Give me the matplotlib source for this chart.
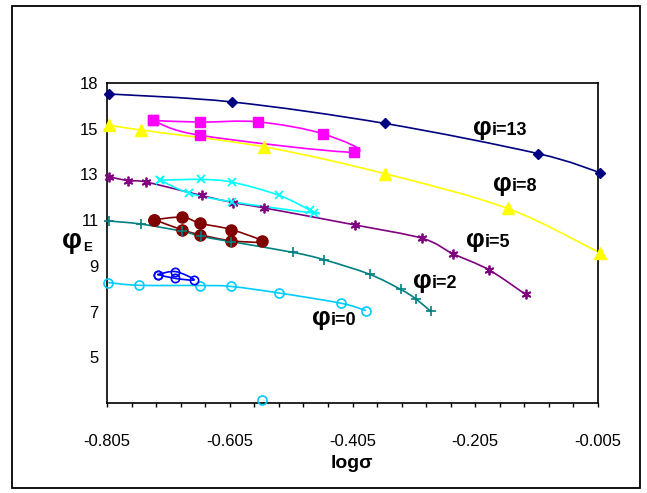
import matplotlib
matplotlib.use('Agg')
import matplotlib.pyplot as plt
from matplotlib.path import Path
from matplotlib.patches import PathPatch, Rectangle

plt.rcParams['font.family'] = ['Liberation Sans', 'DejaVu Sans']

# phi_i = 13 (navy diamonds)
x13 = [-0.802, -0.601, -0.352, -0.1025, -0.002]
y13 = [16.52, 16.17, 15.23, 13.91, 13.08]

# magenta squares (loop)
x_sq = [-0.730, -0.653, -0.559, -0.4535, -0.403, -0.653, -0.730]
y_sq = [15.36, 15.29, 15.30, 14.78, 13.97, 14.71, 15.36]

# phi_i = 8 (yellow triangles)
x8 = [-0.802, -0.750, -0.550, -0.352, -0.152, -0.002]
y8 = [15.16, 14.94, 14.21, 13.03, 11.51, 9.57]

# phi_i = 5 (purple stars)
x5 = [-0.801, -0.770, -0.742, -0.651, -0.600, -0.550, -0.401, -0.291, -0.242, -0.183, -0.123]
y5 = [12.90, 12.72, 12.67, 12.08, 11.77, 11.54, 10.79, 10.20, 9.54, 8.83, 7.75]

# cyan crosses (loop)
x_cx = [-0.7185, -0.6515, -0.601, -0.525, -0.4747, -0.4682, -0.601, -0.671, -0.7185]
y_cx = [12.75, 12.78, 12.66, 12.09, 11.44, 11.31, 11.80, 12.18, 12.75]

# dark red circles (loop)
x_rd = [-0.728, -0.682, -0.653, -0.603, -0.552, -0.603, -0.653, -0.682, -0.728]
y_rd = [11.02, 11.13, 10.86, 10.59, 10.07, 10.10, 10.36, 10.57, 11.02]

# phi_i = 2 (teal plus)
x2 = [-0.801, -0.750, -0.682, -0.6515, -0.603, -0.502, -0.4515, -0.377, -0.3266, -0.302, -0.2777]
y2 = [10.96, 10.83, 10.51, 10.29, 10.06, 9.59, 9.27, 8.63, 7.97, 7.56, 7.01]

# phi_i = 0 (light blue open circles)
x0 = [-0.803, -0.753, -0.653, -0.603, -0.524, -0.423, -0.383]
y0 = [8.27, 8.15, 8.14, 8.10, 7.81, 7.36, 7.04]
x0_extra = [-0.553]
y0_extra = [3.15]

# blue open circles (small loop)
x_bl = [-0.7227, -0.6935, -0.663, -0.6935, -0.7227]
y_bl = [8.62, 8.75, 8.39, 8.45, 8.62]

curve_labels = ['i=13', 'i=8', 'i=5', 'i=2', 'i=0']
label_x = [-0.178, -0.146, -0.1895, -0.2765, -0.440]
label_y = [14.71, 12.28, 9.81, 8.02, 6.43]

x_ticks = [-0.805, -0.605, -0.405, -0.205, -0.005]
x_ticklabels = ['-0.805', '-0.605', '-0.405', '-0.205', '-0.005']
y_ticks = [5, 7, 9, 11, 13, 15, 17]
y_ticklabels = ['5', '7', '9', '11', '13', '15', '18']


def smooth_path(xs, ys):
    # Excel-style smoothed line: cubic bezier with 1/6 tension
    pts = list(zip(xs, ys))
    n = len(pts)
    verts = [pts[0]]
    codes = [Path.MOVETO]
    for i in range(n - 1):
        p0 = pts[i - 1] if i > 0 else pts[i]
        p1 = pts[i]
        p2 = pts[i + 1]
        p3 = pts[i + 2] if i + 2 < n else pts[i + 1]
        c1 = (p1[0] + (p2[0] - p0[0]) / 6, p1[1] + (p2[1] - p0[1]) / 6)
        c2 = (p2[0] - (p3[0] - p1[0]) / 6, p2[1] - (p3[1] - p1[1]) / 6)
        verts += [c1, c2, p2]
        codes += [Path.CURVE4] * 3
    return Path(verts, codes)


def draw_series(ax, xs, ys, color, **marker_kw):
    ax.add_patch(PathPatch(smooth_path(xs, ys), fill=False, edgecolor=color, lw=1.2, zorder=2))
    ax.plot(xs, ys, linestyle='none', color=color, zorder=3, clip_on=False, **marker_kw)


fig = plt.figure(figsize=(6.47, 4.93), dpi=100)
ax = fig.add_axes([107 / 647, 1 - 403 / 493, 491 / 647, 320 / 493])

draw_series(ax, x13, y13, '#000080', marker='D', markersize=5.5)
draw_series(ax, x_sq, y_sq, '#FF00FF', marker='s', markersize=7)
draw_series(ax, x8, y8, '#FFFF00', marker='^', markersize=8)
draw_series(ax, x5, y5, '#800080', marker=(6, 2, 0), markersize=7, markeredgewidth=1.3)
draw_series(ax, x_cx, y_cx, '#00FFFF', marker='x', markersize=6, markeredgewidth=1.3)
draw_series(ax, x_rd, y_rd, '#800000', marker='o', markersize=8)
draw_series(ax, x2, y2, '#008080', marker='+', markersize=7, markeredgewidth=1.2)
draw_series(ax, x0, y0, '#00CCFF', marker='o', markersize=6.5, markerfacecolor='none', markeredgewidth=1.2)
ax.plot(x0_extra, y0_extra, linestyle='none', marker='o', markersize=6.5, color='#00CCFF',
        markerfacecolor='none', markeredgewidth=1.2, clip_on=False, zorder=3)
draw_series(ax, x_bl, y_bl, '#0000FF', marker='o', markersize=6, markerfacecolor='none', markeredgewidth=1.2)

for lab, lx, ly in zip(curve_labels, label_x, label_y):
    ax.text(lx, ly, 'φ', ha='right', va='baseline', fontsize=19, fontweight='bold')
    ax.text(lx, ly, lab, ha='left', va='baseline', fontsize=13, fontweight='bold')

ax.set_xlim(-0.805, -0.005)
ax.set_ylim(3, 17)
ax.set_xticks(x_ticks)
ax.set_xticklabels(x_ticklabels, fontsize=12)
ax.set_xticks([-0.805 + 0.04 * k for k in range(21)], minor=True)
ax.set_yticks(y_ticks)
ax.set_yticklabels(y_ticklabels, fontsize=12)
ax.tick_params(axis='x', which='both', direction='out', length=3, width=1, pad=19)
ax.tick_params(axis='y', length=0, pad=6)
for side in ax.spines.values():
    side.set_linewidth(1.2)

fig.text(352 / 647, 1 - 463 / 493, 'logσ', ha='center', va='center', fontsize=14, fontweight='bold')
fig.text(82 / 647, 1 - 248 / 493, 'φ', ha='right', va='baseline', fontsize=20, fontweight='bold')
fig.text(83 / 647, 1 - 251 / 493, 'E', ha='left', va='baseline', fontsize=9.5, fontweight='bold')

fig.patches.append(Rectangle((12 / 647, 5 / 493), 628 / 647, 482 / 493, transform=fig.transFigure,
                             fill=False, edgecolor='black', lw=1.3))

fig.savefig('out.png', dpi=100)
